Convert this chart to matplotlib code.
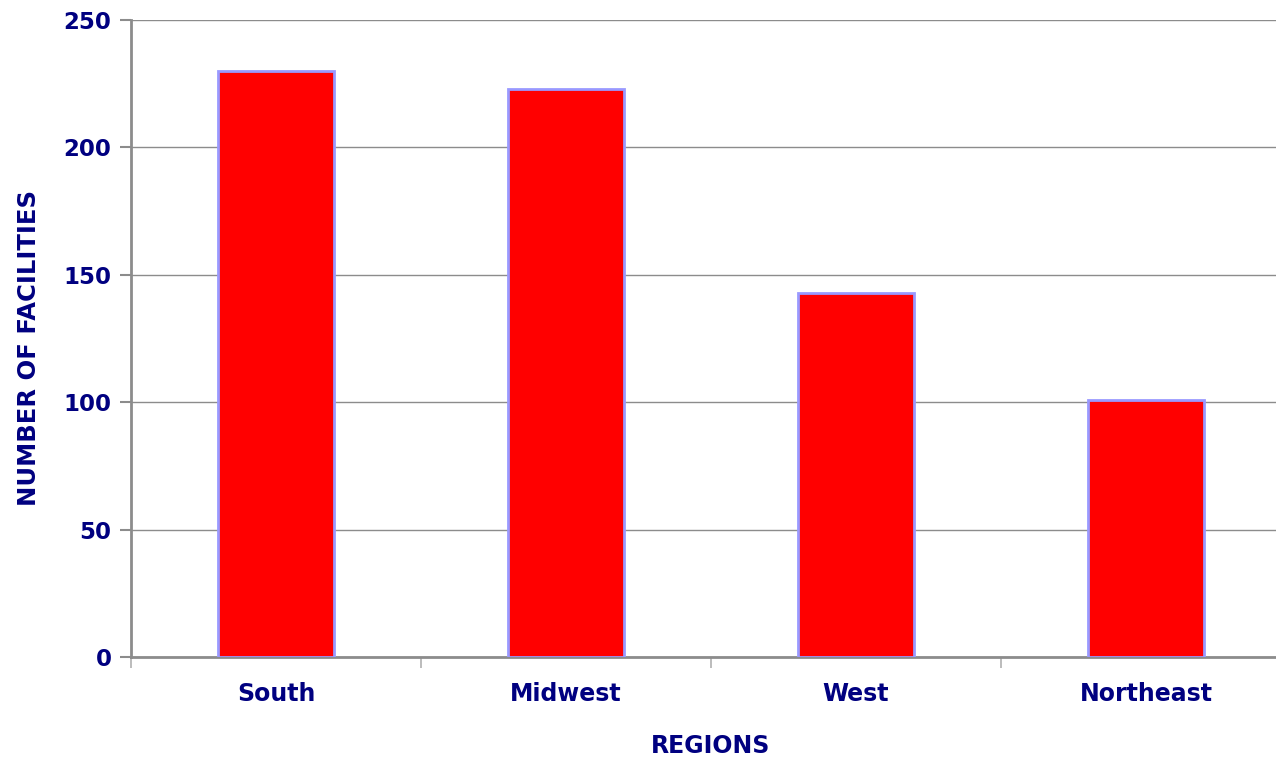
import matplotlib
matplotlib.use("Agg")
import matplotlib.pyplot as plt

regions = ["South", "Midwest", "West", "Northeast"]
facilities = [230, 223, 143, 101]
y_ticks = [0, 50, 100, 150, 200, 250]

navy = "#000080"
grid_gray = "#8c8c8c"

plt.rcParams["font.family"] = ["DejaVu Sans"]
fig = plt.figure(figsize=(12.76, 7.61), dpi=100)
# plot area runs slightly past the right edge of the figure
ax = fig.add_axes([131 / 1276, 1 - 657 / 761, 1160 / 1276, (657 - 20) / 761])

x = list(range(len(regions)))
ax.bar(x, facilities, width=0.4, color="#ff0000", edgecolor="#9999ff", linewidth=2, zorder=3)

ax.set_xlim(-0.5, len(regions) - 0.5)
ax.set_ylim(0, 250)
ax.set_yticks(y_ticks)
ax.set_yticklabels([str(v) for v in y_ticks], fontsize=16.5, fontweight="bold", color=navy)
ax.set_xticks(x)
ax.set_xticklabels(regions, fontsize=17, fontweight="bold", color=navy)
ax.tick_params(axis="x", length=0, pad=18)
ax.tick_params(axis="y", length=8, width=1.5, color=grid_gray, pad=6)

# category separators along the x axis
ax.set_xticks([i - 0.5 for i in range(len(regions) + 1)], minor=True)
ax.tick_params(axis="x", which="minor", length=8, width=1.2, color="#b0b0b0")

ax.yaxis.grid(True, color=grid_gray, linewidth=1, zorder=0)
ax.set_axisbelow(True)
for side in ["top", "right"]:
    ax.spines[side].set_visible(False)
for side in ["left", "bottom"]:
    ax.spines[side].set_color(grid_gray)
    ax.spines[side].set_linewidth(2)

ax.set_xlabel("REGIONS", fontsize=17, fontweight="bold", color=navy, labelpad=20)
ax.set_ylabel("NUMBER OF FACILITIES", fontsize=17.5, fontweight="bold", color=navy)
ax.yaxis.set_label_coords(-0.0775, 0.485)

fig.savefig("out.png", dpi=100)
